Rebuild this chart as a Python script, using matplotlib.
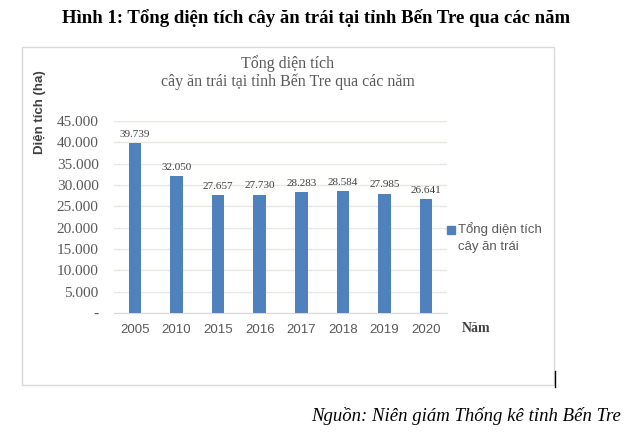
import matplotlib
matplotlib.use('Agg')
import matplotlib.pyplot as plt
from matplotlib.patches import Rectangle
from matplotlib.lines import Line2D

# ── Data ─────────────────────────────────────────────────────────────────────
years = ['2005', '2010', '2015', '2016', '2017', '2018', '2019', '2020']
area = [39739, 32050, 27657, 27730, 28283, 28584, 27985, 26641]
yticks = [0, 5000, 10000, 15000, 20000, 25000, 30000, 35000, 40000, 45000]

W, H = 642, 432
SERIF = ['Liberation Serif', 'DejaVu Serif']
SANS = ['Liberation Sans', 'DejaVu Sans']
BAR = '#4F81BD'
GRAY = '#595959'


def fx(px):
    return px / W


def fy(py):
    return 1 - py / H


def fmt(v):
    return '-' if v == 0 else f'{v:,}'.replace(',', '.')


fig = plt.figure(figsize=(W / 100, H / 100), dpi=100)

# khung biểu đồ
fig.patches.append(Rectangle((fx(22), fy(385)), fx(554 - 22), (385 - 47) / H,
                             transform=fig.transFigure, fill=False,
                             edgecolor='#D9D9D9', lw=1))
fig.lines.append(Line2D([fx(555), fx(555)], [fy(371), fy(387)],
                        transform=fig.transFigure, color='black', lw=1))

ax = fig.add_axes([fx(114), fy(313), fx(447 - 114), (313 - 121) / H])
x = range(len(years))
ax.bar(x, area, width=0.3, color=BAR, zorder=3)
for i, v in enumerate(area):
    ax.text(i, v + 1000, fmt(v), ha='center', va='bottom', fontsize=8,
            family=SERIF, color='#404040')

ax.set_xlim(-0.5, len(years) - 0.5)
ax.set_ylim(0, 45000)
ax.set_yticks(yticks)
ax.set_yticklabels([fmt(v) for v in yticks], family=SERIF, fontsize=11, color=GRAY)
ax.set_xticks(list(x))
ax.set_xticklabels(years, family=SANS, fontsize=9.5, color=GRAY)
ax.tick_params(length=0, pad=8)
ax.tick_params(axis='y', pad=11)
ax.grid(axis='y', color='#E8E8DE', lw=1, zorder=0)
for s in ['top', 'right', 'left']:
    ax.spines[s].set_visible(False)
ax.spines['bottom'].set_color('#D9D9D9')

# tiêu đề
fig.text(fx(316), fy(18), 'Hình 1: Tổng diện tích cây ăn trái tại tỉnh Bến Tre qua các năm',
         ha='center', va='center', family=SERIF, fontsize=13.5, weight='bold')
fig.text(fx(288), fy(64), 'Tổng diện tích', ha='center', va='center',
         family=SERIF, fontsize=11.5, color=GRAY)
fig.text(fx(288), fy(82), 'cây ăn trái tại tỉnh Bến Tre qua các năm', ha='center',
         va='center', family=SERIF, fontsize=11.5, color=GRAY)

fig.text(fx(40), fy(112), 'Diện tích (ha)', rotation=90, ha='center', va='center',
         family=SANS, fontsize=9.5, weight='bold', color='#404040')
fig.text(fx(476), fy(329), 'Năm', ha='center', va='center', family=SERIF,
         fontsize=10, weight='bold', color='#404040')

# chú giải
fig.patches.append(Rectangle((fx(447), fy(234)), fx(8), 8 / H,
                             transform=fig.transFigure, color=BAR))
fig.text(fx(458), fy(229), 'Tổng diện tích', ha='left', va='center',
         family=SANS, fontsize=9.5, color=GRAY)
fig.text(fx(458), fy(247), 'cây ăn trái', ha='left', va='center',
         family=SANS, fontsize=9.5, color=GRAY)

fig.text(fx(621), fy(416), 'Nguồn: Niên giám Thống kê tỉnh Bến Tre', ha='right',
         va='center', family=SERIF, fontsize=13.5, style='italic')

fig.savefig('out.png', dpi=100)
